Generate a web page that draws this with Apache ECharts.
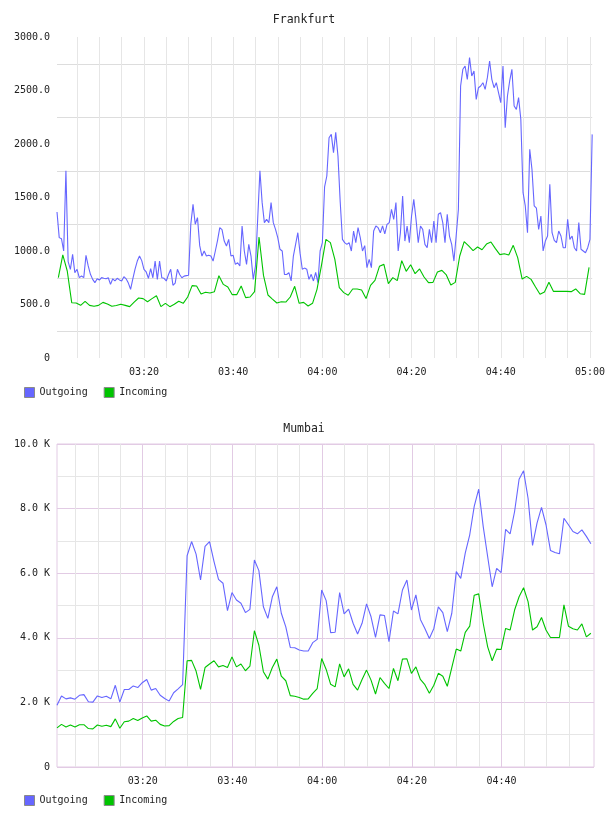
<!DOCTYPE html>
<html><head><meta charset="utf-8">
<script src="https://cdn.jsdelivr.net/npm/echarts@6/dist/echarts.min.js"></script>
<style>html,body{margin:0;padding:0;background:#fff}#c{width:608px;height:816px}</style>
</head><body><div id="c"></div>
<script>
// ---- data ----
const fraTitle = 'Frankfurt';
const bomTitle = 'Mumbai';
const seriesNames = ['Outgoing', 'Incoming'];
// minutes after 03:00
const fraOutStart = 0.5, fraOutStep = 0.5;
const fraOut = [1364,1125,1115,1000,1750,900,829,969,798,829,751,766,751,959,860,782,735,704,741,729,
 751,745,740,750,688,740,720,745,730,720,760,740,700,642,740,830,906,953,910,829,
 804,745,835,750,906,735,906,750,745,720,780,829,680,700,829,780,750,765,770,773,
 1249,1436,1250,1312,1050,953,1000,953,960,953,906,1000,1100,1218,1200,1093,1047,1109,953,960,
 875,890,860,1234,1000,875,1062,953,735,860,1300,1750,1452,1265,1296,1265,1452,1265,1202,1125,
 1016,1000,780,780,798,720,953,1062,1171,980,829,840,830,735,782,720,800,704,1000,1078,
 1600,1701,2059,2090,1919,2109,1888,1460,1109,1078,1062,1078,1000,1187,1078,1218,1125,1000,1050,844,
 922,844,1187,1234,1218,1171,1234,1160,1249,1265,1389,1296,1452,1000,1171,1514,1093,1234,1078,1327,
 1483,1296,1078,1234,1202,1062,1031,1202,1078,1280,1078,1343,1358,1265,1078,1343,1140,1062,906,1140,
 1389,2542,2698,2729,2604,2807,2636,2682,2417,2526,2542,2573,2511,2620,2776,2604,2526,2573,2480,2386,
 2729,2153,2449,2589,2698,2355,2324,2433,2231,1545,1421,1171,1950,1763,1421,1400,1202,1327,1000,1093,
 1140,1623,1171,1100,1078,1187,1140,1031,1031,1296,1109,1140,1031,1000,1265,1016,1000,984,1031,1109,
 2090];
const fraInStart = 0.8, fraInStep = 1;
const fraIn = [751,963,813,517,514,492,530,492,483,492,520,505,483,490,502,492,480,523,561,555,
 526,555,582,480,511,480,502,530,511,570,676,673,598,614,607,620,769,688,663,592,
 592,673,564,570,620,1131,772,589,551,514,526,523,570,670,
 511,520,486,511,642,866,1109,1078,922,657,611,586,645,645,636,555,679,726,857,875,
 695,751,723,910,810,872,788,832,757,704,707,804,819,776,682,707,953,1087,1047,1003,
 1037,1012,1065,1084,1022,966,975,963,1053,938,738,763,735,664,595,617,707,623,623,623,
 623,620,645,601,595,847];
const bomStart = 0.9, bomStep = 1;
// thousands
const bomOut = [1.91,2.20,2.11,2.14,2.10,2.22,2.24,2.02,2.01,2.20,2.15,2.19,2.11,2.53,2.01,2.40,2.40,2.51,2.46,2.61,
 2.71,2.38,2.43,2.22,2.12,2.04,2.30,2.42,2.55,6.54,6.98,6.59,5.79,6.83,6.98,6.36,5.81,5.69,4.84,5.40,
 5.17,5.07,4.78,4.88,6.41,6.08,4.96,4.60,5.27,5.58,4.76,4.34,3.70,3.69,3.62,3.59,3.59,3.85,3.95,5.48,
 5.15,4.16,4.17,5.40,4.74,4.89,4.45,4.12,4.45,5.05,4.65,4.01,4.71,4.69,3.88,4.83,4.74,5.48,5.79,4.86,
 5.33,4.57,4.29,3.98,4.29,4.96,4.78,4.19,4.76,6.05,5.84,6.62,7.19,8.07,8.60,7.45,6.51,5.58,6.15,6.02,
 7.36,7.22,7.91,8.91,9.17,8.32,6.86,7.55,8.04,7.50,6.70,6.64,6.60,7.70,7.50,7.29,7.22,7.34,7.14,6.91];
const bomIn = [1.21,1.32,1.24,1.30,1.24,1.31,1.31,1.19,1.18,1.30,1.26,1.29,1.25,1.49,1.20,1.40,1.42,1.50,1.44,1.52,
 1.58,1.42,1.45,1.32,1.27,1.28,1.41,1.50,1.53,3.29,3.30,2.97,2.40,3.08,3.19,3.29,3.10,3.14,3.08,3.41,
 3.10,3.19,2.98,3.12,4.22,3.77,2.95,2.72,3.08,3.34,2.81,2.67,2.21,2.19,2.15,2.10,2.11,2.28,2.43,3.36,
 3.02,2.56,2.48,3.19,2.79,3.04,2.56,2.38,2.71,3.00,2.69,2.26,2.77,2.59,2.43,3.05,2.67,3.34,3.35,2.90,
 3.10,2.71,2.55,2.28,2.53,2.90,2.81,2.50,3.08,3.65,3.59,4.17,4.36,5.32,5.36,4.45,3.72,3.29,3.65,3.64,
 4.29,4.24,4.86,5.27,5.55,5.12,4.24,4.34,4.63,4.24,4.01,4.01,4.01,5.02,4.36,4.28,4.24,4.43,4.03,4.14];
const fraYTicks = [0,500,1000,1500,2000,2500,3000];
const fraYGrid = [250,750,1250,1750,2250,2750];
const fraTimeLabels = ['03:20','03:40','04:00','04:20','04:40','05:00'];
const bomTimeLabels = ['03:20','03:40','04:00','04:20','04:40'];
const baseHour = 3;

// ---- build ----
const FONT = 'DejaVu Sans Mono';
const BLUE = '#6666ff', GREEN = '#00c400';
const toMin = s => { const p = s.split(':'); return (+p[0] - baseHour) * 60 + (+p[1]); };
const fmtMin = m => { const t = baseHour * 60 + Math.round(m); return String(Math.floor(t/60)).padStart(2,'0') + ':' + String(t%60).padStart(2,'0'); };
const pairs = (arr, s, d) => arr.map((v, i) => [s + d * i, v]);
const every5 = (a, b) => { const r = []; for (let m = a; m <= b; m += 5) r.push(m); return r; };
const txt = {fontFamily: FONT, fontSize: 10, color: '#222'};
const PINK = '#e2cbe4', GRAY = '#e6e6e6';

const chart = echarts.init(document.getElementById('c'), null, {renderer: 'canvas'});
chart.setOption({
  animation: false,
  backgroundColor: '#fff',
  title: [
    {text: fraTitle, left: 'center', top: 14, padding: 0, textStyle: {fontFamily: FONT, fontSize: 11.5, fontWeight: 'normal', color: '#222'}},
    {text: bomTitle, left: 'center', top: 423, padding: 0, textStyle: {fontFamily: FONT, fontSize: 11.5, fontWeight: 'normal', color: '#222'}}
  ],
  legend: [
    {left: 24, top: 387, padding: 0, itemWidth: 10, itemHeight: 10, itemGap: 16, icon: 'rect',
     data: seriesNames, textStyle: txt, itemStyle: {borderColor: '#8a8a8a', borderWidth: 1}, selectedMode: false},
    {left: 24, top: 795, padding: 0, itemWidth: 10, itemHeight: 10, itemGap: 16, icon: 'rect',
     data: seriesNames, textStyle: txt, itemStyle: {borderColor: '#8a8a8a', borderWidth: 1}, selectedMode: false}
  ],
  grid: [
    {left: 57, top: 37, width: 536, height: 321, show: false},
    {left: 57, top: 444, width: 537, height: 323, show: true, borderColor: PINK, borderWidth: 1, backgroundColor: 'transparent'}
  ],
  xAxis: [
    {gridIndex: 0, type: 'value', min: 0.5, max: 120.5,
     axisLine: {show: false},
     axisTick: {show: false, customValues: every5(5, 120)},
     axisLabel: {customValues: fraTimeLabels.map(toMin), formatter: v => fmtMin(v), margin: 9, ...txt},
     splitLine: {show: true, lineStyle: {color: GRAY, width: 1}}},
    {gridIndex: 1, type: 'value', min: 0.9, max: 120.6,
     axisLine: {show: false},
     axisTick: {show: false, customValues: every5(5, 115)},
     axisLabel: {customValues: bomTimeLabels.map(toMin), formatter: v => fmtMin(v), margin: 9, ...txt},
     splitLine: {show: true, lineStyle: {color: [GRAY, GRAY, GRAY, PINK], width: 1}}}
  ],
  yAxis: [
    {gridIndex: 0, type: 'value', min: 0, max: 3000,
     axisLine: {show: false},
     axisTick: {show: false, customValues: fraYGrid},
     axisLabel: {customValues: fraYTicks, formatter: v => v === 0 ? '0' : v.toFixed(1), margin: 7, ...txt},
     splitLine: {show: true, lineStyle: {color: '#dddddd', width: 1}}},
    {gridIndex: 1, type: 'value', min: 0, max: 10, interval: 1,
     axisLine: {show: false}, axisTick: {show: false},
     axisLabel: {formatter: v => (Math.round(v) % 2) ? '' : (v === 0 ? '0' : v.toFixed(1) + ' K'), margin: 7, ...txt},
     splitLine: {show: true, lineStyle: {color: [PINK, GRAY], width: 1}}}
  ],
  series: [
    {name: seriesNames[0], type: 'line', xAxisIndex: 0, yAxisIndex: 0, data: pairs(fraOut, fraOutStart, fraOutStep),
     showSymbol: false, symbol: 'none', lineStyle: {color: BLUE, width: 1.1}, itemStyle: {color: BLUE}, z: 3},
    {name: seriesNames[1], type: 'line', xAxisIndex: 0, yAxisIndex: 0, data: pairs(fraIn, fraInStart, fraInStep),
     showSymbol: false, symbol: 'none', lineStyle: {color: GREEN, width: 1.1}, itemStyle: {color: GREEN}, z: 4},
    {name: seriesNames[0], type: 'line', xAxisIndex: 1, yAxisIndex: 1, data: pairs(bomOut, bomStart, bomStep),
     showSymbol: false, symbol: 'none', lineStyle: {color: BLUE, width: 1.1}, itemStyle: {color: BLUE}, z: 3},
    {name: seriesNames[1], type: 'line', xAxisIndex: 1, yAxisIndex: 1, data: pairs(bomIn, bomStart, bomStep),
     showSymbol: false, symbol: 'none', lineStyle: {color: GREEN, width: 1.1}, itemStyle: {color: GREEN}, z: 4}
  ]
});
</script>
</body></html>
